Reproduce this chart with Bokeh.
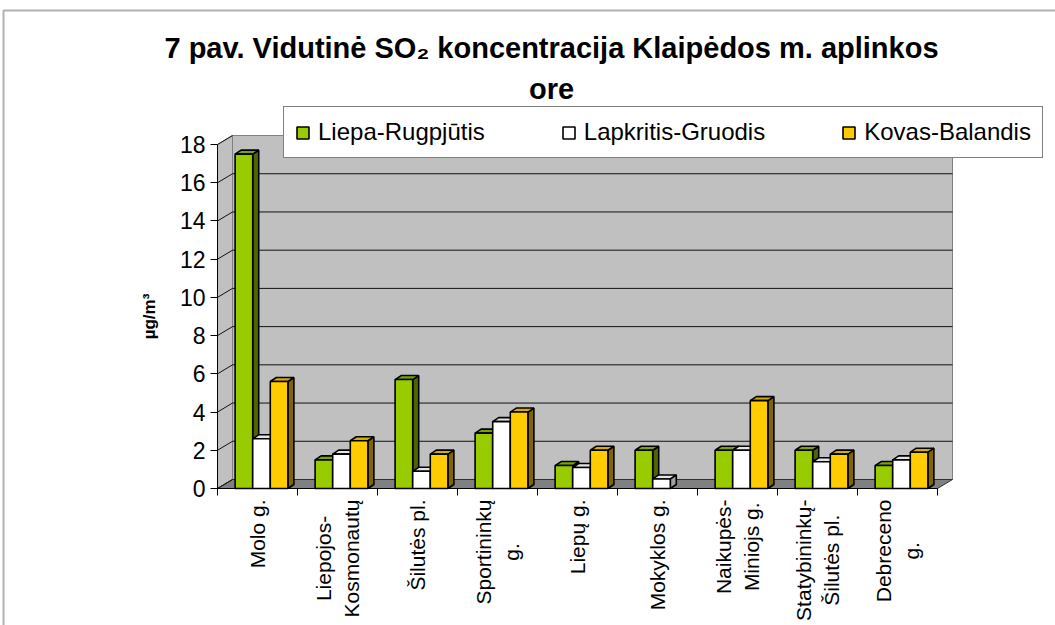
import math
from bokeh.plotting import figure
from bokeh.models import (FixedTicker, Legend, LegendItem, Label, LabelSet, BoxAnnotation, Range1d,
                          ColumnDataSource, LinearAxis)
from bokeh.core.properties import value
from bokeh.embed import file_html
from bokeh.resources import INLINE

# ---------------- data ----------------
categories = ["Molo g.", "Liepojos-\nKosmonautų", "Šilutės pl.", "Sportininkų\ng.", "Liepų g.",
              "Mokyklos g.", "Naikupės-\nMiniojs g.", "Statybininkų-\nŠilutės pl.", "Debreceno\ng."]
series_names = ["Liepa-Rugpjūtis", "Lapkritis-Gruodis", "Kovas-Balandis"]
liepa_rugpjutis = [17.5, 1.5, 5.7, 2.9, 1.2, 2.0, 2.0, 2.0, 1.2]
lapkritis_gruodis = [2.6, 1.8, 0.9, 3.5, 1.1, 0.5, 2.0, 1.4, 1.5]
kovas_balandis = [5.6, 2.5, 1.8, 4.0, 2.0, 0.0, 4.6, 1.8, 1.9]
y_ticks = [0, 2, 4, 6, 8, 10, 12, 14, 16, 18]
title_line1 = "7 pav. Vidutinė SO₂ koncentracija Klaipėdos m. aplinkos"
title_line2 = "ore"
y_label = "µg/m³"

series_values = [liepa_rugpjutis, lapkritis_gruodis, kovas_balandis]

# ---------------- styles / layout ----------------
front_colors = ["#99CC00", "#FFFFFF", "#FFCC00"]
top_colors = ["#7BA300", "#E4E4E4", "#D9AD00"]
side_colors = ["#4D6600", "#A0A0A0", "#806600"]
FONT = "Liberation Sans"
XLAB_SIZE = 21
XLAB_LINE = 28               # distance between wrapped label lines (px)

# approximate advance widths (per 1000 em) of Liberation Sans, used to centre wrapped label lines
CHAR_W = {" ": 278, "-": 333, ".": 278, "a": 556, "b": 556, "c": 500, "d": 556, "e": 556, "g": 556,
          "i": 222, "j": 222, "k": 500, "l": 222, "m": 833, "n": 556, "o": 556, "p": 556, "r": 333,
          "s": 500, "t": 278, "u": 556, "y": 500, "ų": 556, "ė": 556, "D": 722, "K": 667, "L": 556,
          "M": 833, "N": 722, "S": 667, "Š": 667}


def text_len(s, size):
    return sum(CHAR_W.get(c, 556) for c in s) / 1000.0 * size


W, H = 1055, 625
AX_X, AX_Y = 217, 488        # pixel position of the axes corner
px_x, px_y = 80.0, 19.11     # pixels per data unit
n = len(categories)
y_max = y_ticks[-1]
x_lo = -0.5
DX = 15.0 / px_x             # wall depth
DY = 9.0 / px_y
BW = 0.22                    # bar width
B0 = 0.22                    # cluster offset in category
bdx = 6.0 / px_x             # bar depth
bdy = 4.0 / px_y
TICK_OUT = 7

x_range = Range1d(x_lo - AX_X / px_x, x_lo + (W - AX_X) / px_x)
y_range = Range1d(-(H - AX_Y) / px_y, AX_Y / px_y)

p = figure(width=W, height=H, output_backend="svg", toolbar_location=None,
           x_range=x_range, y_range=y_range, x_axis_location=None, y_axis_location=None,
           min_border=0, min_border_left=0, min_border_right=0, min_border_top=0, min_border_bottom=0)
p.outline_line_color = None
p.grid.visible = False
p.background_fill_color = "white"
p.border_fill_color = "white"

x_wall_r = n - 0.5 + DX
# back wall
p.quad(left=[x_lo + DX], right=[x_wall_r], bottom=[DY], top=[y_max + DY],
       fill_color="#C0C0C0", line_color="#808080", line_width=1)
# left side wall
p.patch([x_lo, x_lo + DX, x_lo + DX, x_lo], [0, DY, y_max + DY, y_max],
        fill_color="#C0C0C0", line_color="#808080", line_width=1)
# floor
p.patch([x_lo, n - 0.5, x_wall_r, x_lo + DX], [0, 0, DY, DY],
        fill_color="#808080", line_color="#303030", line_width=1)
# gridlines on back wall
gv = [v for v in y_ticks if 0 < v < y_max]
p.segment(x0=[x_lo + DX] * len(gv), y0=[v + DY for v in gv],
          x1=[x_wall_r] * len(gv), y1=[v + DY for v in gv], line_color="#111111", line_width=1)
# gridlines on side wall
p.segment(x0=[x_lo] * len(y_ticks), y0=y_ticks,
          x1=[x_lo + DX] * len(y_ticks), y1=[v + DY for v in y_ticks],
          line_color="#111111", line_width=1)

front_renderers = []
for j, vals in enumerate(series_values):
    x0s, x1s, hs = [], [], []
    for i, v in enumerate(vals):
        if v <= 0:
            continue
        x0 = i - 0.5 + B0 + j * BW
        x0s.append(x0); x1s.append(x0 + BW); hs.append(v)
    side_xs = [[a, a + bdx, a + bdx, a] for a in x1s]
    side_ys = [[0, bdy, h + bdy, h] for h in hs]
    p.patches(side_xs, side_ys, fill_color=side_colors[j], line_color="black", line_width=1.6)
    top_xs = [[a, b, b + bdx, a + bdx] for a, b in zip(x0s, x1s)]
    top_ys = [[h, h, h + bdy, h + bdy] for h in hs]
    p.patches(top_xs, top_ys, fill_color=top_colors[j], line_color="black", line_width=1.6)
    src = ColumnDataSource(dict(left=x0s, right=x1s, top=hs, bottom=[0] * len(hs)))
    r = p.quad(left="left", right="right", top="top", bottom="bottom", source=src,
               fill_color=front_colors[j], line_color="black", line_width=1.6)
    front_renderers.append(r)

# axes (fixed inside the frame)
ya = LinearAxis(fixed_location=x_lo)
ya.ticker = FixedTicker(ticks=y_ticks)
ya.bounds = (0, y_max)
ya.major_tick_out = TICK_OUT
ya.major_tick_in = 0
ya.minor_tick_line_color = None
ya.axis_line_color = "black"
ya.major_tick_line_color = "black"
ya.major_label_text_font = FONT
ya.major_label_text_font_size = "23px"
ya.major_label_text_color = "black"
ya.major_label_standoff = 5
ya.axis_label = y_label
ya.axis_label_text_font = FONT
ya.axis_label_text_font_size = "17px"
ya.axis_label_text_font_style = "bold"
ya.axis_label_text_color = "black"
ya.axis_label_standoff = 18
p.add_layout(ya, "left")

xa = LinearAxis(fixed_location=0)
xa.ticker = FixedTicker(ticks=[], minor_ticks=[i - 0.5 for i in range(n + 1)])
xa.bounds = (x_lo, n - 0.5)
xa.minor_tick_out = TICK_OUT
xa.minor_tick_in = 0
xa.minor_tick_line_color = "black"
xa.major_tick_line_color = None
xa.axis_line_color = "black"
p.add_layout(xa, "below")

# category labels: wrapped lines centred, block starting just below the axis
lx, ly, lxo, lt = [], [], [], []
for i, c in enumerate(categories):
    lines = c.split("\n")
    block = max(text_len(line, XLAB_SIZE) for line in lines)
    yc = H - (AX_Y + TICK_OUT + 4 + block / 2.0)
    m = len(lines)
    for k, line in enumerate(lines):
        lx.append(i)
        ly.append(yc)
        lxo.append((k - (m - 1) / 2.0) * XLAB_LINE)
        lt.append(line)
lab_src = ColumnDataSource(dict(x=lx, y=ly, xo=lxo, text=lt))
p.add_layout(LabelSet(x="x", y="y", text="text", x_offset="xo", source=lab_src,
                      x_units="data", y_units="screen",
                      angle=math.pi / 2, text_align="center", text_baseline="middle",
                      text_font=value(FONT), text_font_size=value(f"{XLAB_SIZE}px"), text_color="black"))

# legend
legend = Legend(items=[LegendItem(label=nm, renderers=[r]) for nm, r in zip(series_names, front_renderers)],
                orientation="horizontal", location=(283, H - 158),
                label_text_font=FONT, label_text_font_size="24px", label_text_color="black",
                glyph_width=15, glyph_height=15, label_standoff=8, spacing=76, padding=11, margin=0,
                border_line_color="black", border_line_width=1.5, background_fill_color="white",
                background_fill_alpha=1.0)
p.add_layout(legend, "center")

# title
for txt, yy in [(title_line1, H - 47), (title_line2, H - 88)]:
    p.add_layout(Label(x=551, y=yy, x_units="screen", y_units="screen", text=txt,
                       text_align="center", text_baseline="middle", text_font=FONT,
                       text_font_size="29px", text_font_style="bold", text_color="black"))

# outer frame
p.add_layout(BoxAnnotation(left=3, right=W + 50, top=H - 10, bottom=-50,
                           left_units="screen", right_units="screen", top_units="screen", bottom_units="screen",
                           fill_alpha=0, line_color="black", line_width=2))

open("out.html", "w").write(file_html(p, INLINE))
